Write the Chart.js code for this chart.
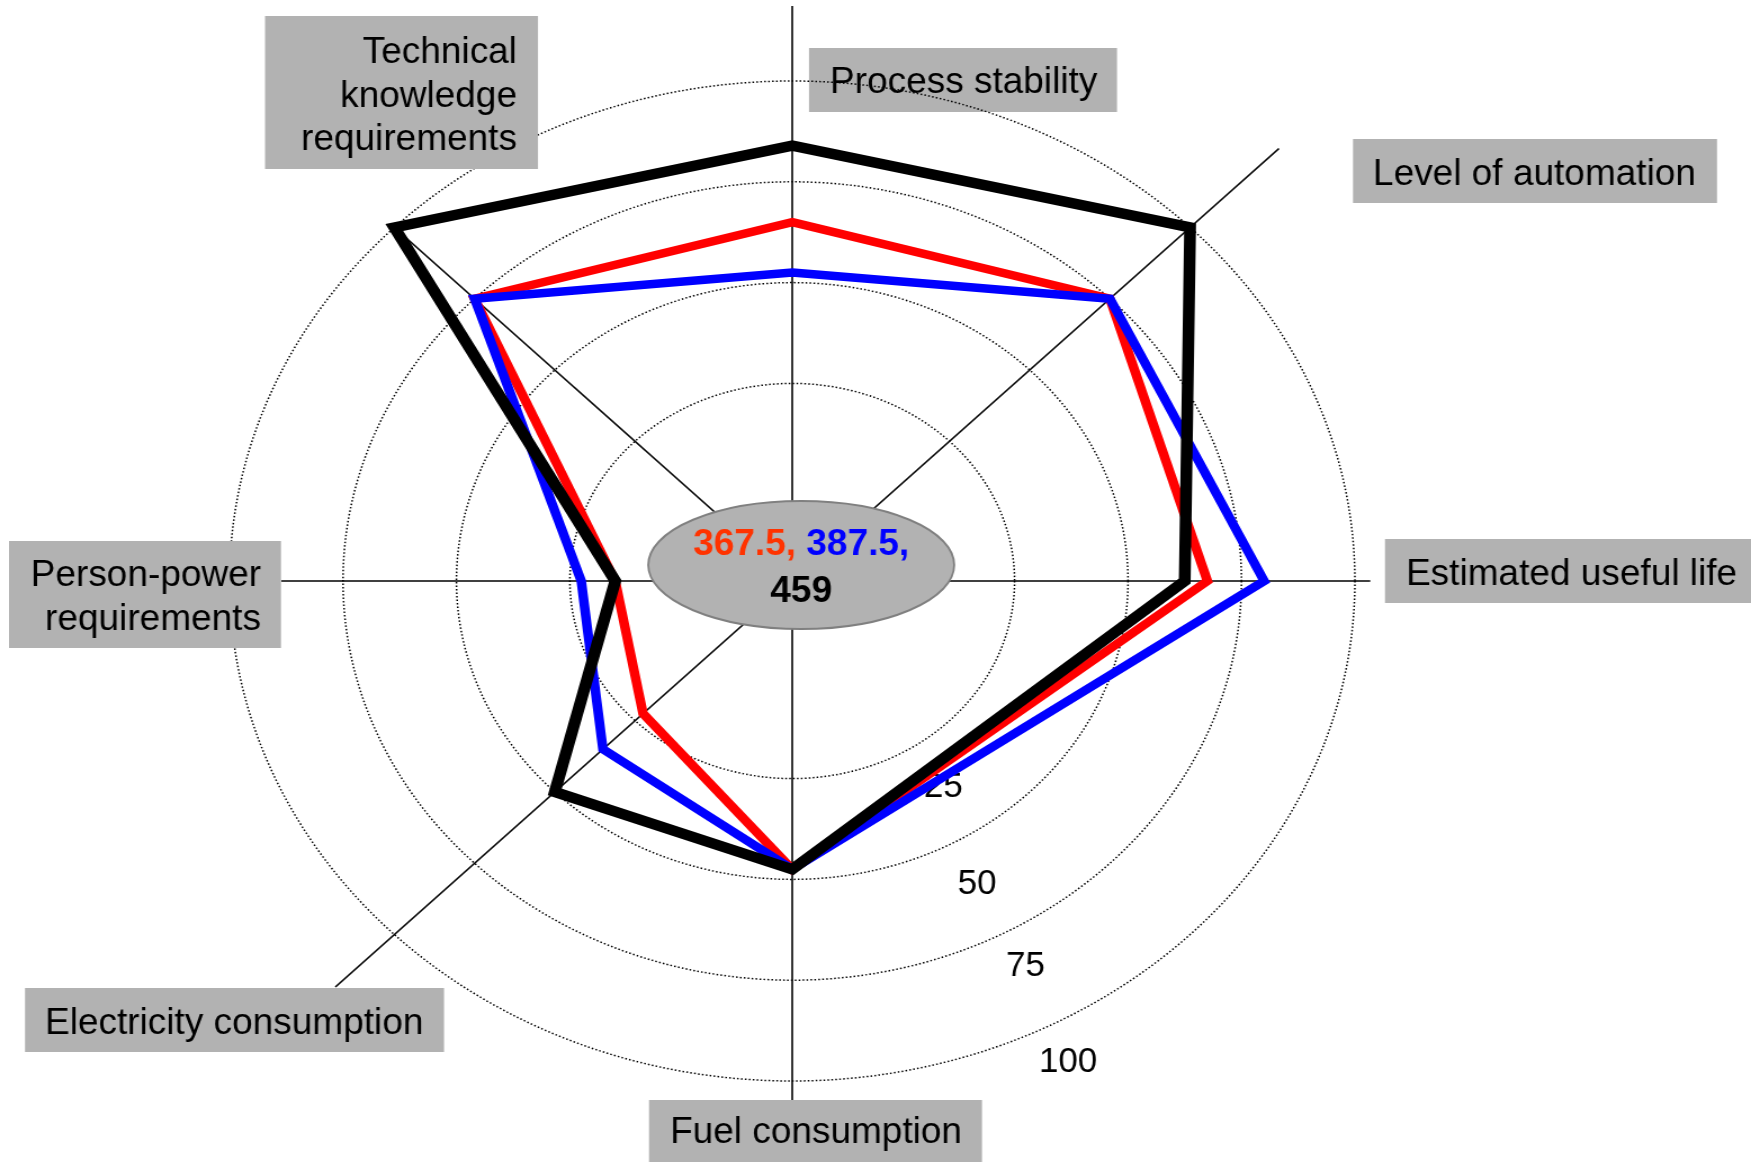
<!DOCTYPE html>
<html>
<head>
<meta charset="utf-8">
<script src="https://cdn.jsdelivr.net/npm/chart.js@4.4.1/dist/chart.umd.min.js"></script>
<style>
html,body{margin:0;padding:0;background:#fff;overflow:hidden;}
#wrap{width:1556px;height:1162px;transform:scaleX(1.12532);transform-origin:0 0;}
</style>
</head>
<body>
<div id="wrap"><canvas id="radar" width="1556" height="1162"></canvas></div>
<script>
// categories clockwise from the top, the lower-right slot has no criterion
const criteria = ["Process stability", "Level of automation", "Estimated useful life", "",
  "Fuel consumption", "Electricity consumption", "Person-power requirements", "Technical knowledge requirements"];
const scoreBlack = [84, 100, 62.5, null, 47.5, 50, 15, 100];
const scoreBlue = [52.5, 75, 80, null, 47.5, 35, 22.5, 75];
const scoreRed = [65, 75, 67.5, null, 47.5, 22.5, 15, 75];
const ringTicks = [25, 50, 75, 100];

// the picture is wider than tall: draw on a narrower canvas and stretch it
const stretch = 1751 / 1556;
const font = '"Liberation Sans", Arial, sans-serif';
const scaleMin = -24;

// how far each axis line runs, in scale units
const axisReach = [118.6, 127.7, 103.4, null, 104.7, 118.4, 88.6, 100];
// where the ring values sit: angle below horizontal (deg) and gap outside the ring (px)
const tickPlace = [{a: 57, off: 49}, {a: 61.6, off: 47}, {a: 61.7, off: 38}, {a: 63, off: 40}];

// grey label boxes, page pixels
const labelBoxes = [
  {i: 0, x: 809, y: 48, w: 308, h: 64, tx: 830, base: [93], align: "left", under: true},
  {i: 1, x: 1353, y: 139, w: 364, h: 64, tx: 1373, base: [185], align: "left"},
  {i: 2, x: 1385, y: 539, w: 366, h: 64, tx: 1406, base: [585], align: "left"},
  {i: 4, x: 649, y: 1100, w: 333, h: 62, tx: 670, base: [1143], align: "left"},
  {i: 5, x: 25, y: 988, w: 419, h: 64, tx: 45, base: [1034], align: "left"},
  {i: 6, x: 9, y: 541, w: 272, h: 107, tx: 261, base: [586, 630], align: "right"},
  {i: 7, x: 265, y: 16, w: 273, h: 153, tx: 517, base: [63, 107, 150], align: "right"}
];

const sum = arr => arr.reduce((a, v) => a + (v || 0), 0);

function drawBox(ctx, b) {
  ctx.save();
  ctx.scale(1 / stretch, 1);
  ctx.fillStyle = "#b2b2b2";
  ctx.fillRect(b.x, b.y, b.w, b.h);
  ctx.fillStyle = "#000";
  ctx.font = "37px " + font;
  ctx.textAlign = b.align;
  ctx.textBaseline = "alphabetic";
  const lines = b.base.length > 1 ? criteria[b.i].split(" ") : [criteria[b.i]];
  lines.forEach((t, k) => ctx.fillText(t, b.tx, b.base[k]));
  ctx.restore();
}

const decor = {
  id: "decor",
  beforeDraw(chart) {
    labelBoxes.filter(b => b.under).forEach(b => drawBox(chart.ctx, b));
  },
  beforeDatasetsDraw(chart) {
    const ctx = chart.ctx, r = chart.scales.r;
    ctx.save();
    ctx.strokeStyle = "#000";
    ctx.lineWidth = 1.6;
    axisReach.forEach((v, i) => {
      if (v == null) return;
      const p = r.getPointPositionForValue(i, v);
      ctx.beginPath();
      ctx.moveTo(r.xCenter, r.yCenter);
      ctx.lineTo(p.x, p.y);
      ctx.stroke();
    });
    ctx.restore();

    // ring values, set along a diagonal in the lower right
    ctx.save();
    ctx.scale(1 / stretch, 1);
    ctx.fillStyle = "#000";
    ctx.font = "35px " + font;
    ctx.textAlign = "center";
    ctx.textBaseline = "middle";
    ringTicks.forEach((v, k) => {
      const a = tickPlace[k].a * Math.PI / 180;
      const d = r.getDistanceFromCenterForValue(v) + tickPlace[k].off;
      ctx.fillText(String(v), (r.xCenter + Math.cos(a) * d) * stretch, r.yCenter + Math.sin(a) * d);
    });
    ctx.restore();
  },
  afterDatasetsDraw(chart) {
    const ctx = chart.ctx, r = chart.scales.r;
    labelBoxes.filter(b => !b.under).forEach(b => drawBox(ctx, b));

    // totals in the grey ellipse
    const cx = r.xCenter * stretch + 9, cy = r.yCenter - 16;
    ctx.save();
    ctx.scale(1 / stretch, 1);
    ctx.beginPath();
    ctx.ellipse(cx, cy, 153, 64, 0, 0, Math.PI * 2);
    ctx.fillStyle = "#b2b2b2";
    ctx.fill();
    ctx.strokeStyle = "#808080";
    ctx.lineWidth = 2;
    ctx.stroke();
    ctx.font = "bold 37px " + font;
    ctx.textBaseline = "alphabetic";
    const t1 = sum(scoreRed) + ", ", t2 = sum(scoreBlue) + ",";
    const w1 = ctx.measureText(t1).width, w2 = ctx.measureText(t2).width;
    const x = cx - (w1 + w2) / 2;
    ctx.textAlign = "left";
    ctx.fillStyle = "#ff3300";
    ctx.fillText(t1, x, cy - 10);
    ctx.fillStyle = "#0000ff";
    ctx.fillText(t2, x + w1, cy - 10);
    ctx.textAlign = "center";
    ctx.fillStyle = "#000";
    ctx.fillText(String(sum(scoreBlack)), cx, cy + 37);
    ctx.restore();
  }
};

const lineStyle = {fill: false, spanGaps: true, pointRadius: 0, pointHoverRadius: 0,
  borderJoinStyle: "miter", tension: 0, backgroundColor: "transparent"};

new Chart(document.getElementById("radar"), {
  type: "radar",
  data: {
    labels: criteria,
    datasets: [
      Object.assign({label: "Black", data: scoreBlack, borderColor: "#000000", borderWidth: 10.5}, lineStyle),
      Object.assign({label: "Blue", data: scoreBlue, borderColor: "#0000ff", borderWidth: 8.5}, lineStyle),
      Object.assign({label: "Red", data: scoreRed, borderColor: "#ff0000", borderWidth: 8.5}, lineStyle)
    ]
  },
  options: {
    responsive: false,
    animation: false,
    events: [],
    layout: {padding: {top: 81, bottom: 81, left: 0, right: 147}},
    plugins: {legend: {display: false}, tooltip: {enabled: false}},
    scales: {
      r: {
        min: scaleMin,
        max: 100,
        afterBuildTicks: s => { s.ticks = [scaleMin].concat(ringTicks).map(v => ({value: v})); },
        ticks: {display: false},
        pointLabels: {display: false},
        angleLines: {display: false},
        grid: {
          circular: true,
          color: c => (c.tick && c.tick.value > scaleMin ? "#000" : "rgba(0,0,0,0)"),
          lineWidth: 1.5
        },
        border: {dash: [1.5, 2]}
      }
    }
  },
  plugins: [decor]
});
</script>
</body>
</html>
